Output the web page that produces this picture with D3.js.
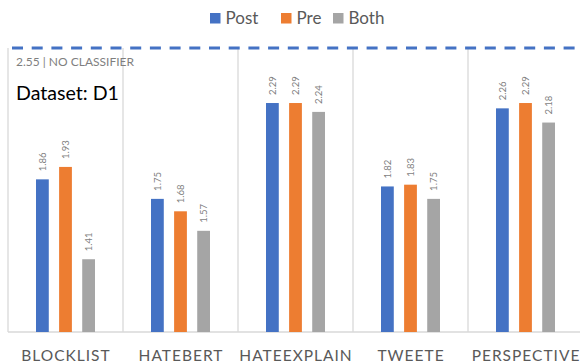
<!DOCTYPE html>
<html>
<head>
<meta charset="utf-8">
<script src="https://cdn.jsdelivr.net/npm/d3@7"></script>
<style>
  html, body { margin: 0; padding: 0; background: #fff; }
  svg { display: block; font-family: Lato, "Open Sans", sans-serif; }
</style>
</head>
<body>
<svg id="chart" width="580" height="363"></svg>
<script>
// ---- data ----
const categories = ["BLOCKLIST", "HATEBERT", "HATEEXPLAIN", "TWEETE", "PERSPECTIVE"];
const seriesNames = ["Post", "Pre", "Both"];
const postValues = [1.86, 1.75, 2.29, 1.82, 2.26];
const preValues  = [1.93, 1.68, 2.29, 1.83, 2.29];
const bothValues = [1.41, 1.57, 2.24, 1.75, 2.18];
const seriesColors = ["#4472C4", "#ED7D31", "#A5A5A5"];
const yDomain = [1, 2.6];
const referenceValue = 2.55;
const referenceLabel = "NO CLASSIFIER";
const datasetLabel = "Dataset: D1";

// ---- build ----
const seriesValues = [postValues, preValues, bothValues];
const svg = d3.select("#chart");

const plot = { left: 8, right: 583, top: 48, bottom: 332 };

const x0 = d3.scaleBand().domain(categories).range([plot.left, plot.right]).paddingInner(0).paddingOuter(0);
const bw = x0.bandwidth();
const x1 = d3.scaleBand().domain(seriesNames).range([bw * 0.2435, bw * 0.7565]).paddingInner(0.447).paddingOuter(0);
const y = d3.scaleLinear().domain(yDomain).range([plot.bottom, plot.top]);
const color = d3.scaleOrdinal().domain(seriesNames).range(seriesColors);

// category dividers
const dividers = categories.map(c => x0(c)).concat([x0(categories[categories.length - 1]) + bw]);
svg.append("g").selectAll("line").data(dividers).join("line")
  .attr("x1", d => d).attr("x2", d => d)
  .attr("y1", y(yDomain[1])).attr("y2", y(yDomain[0]))
  .attr("stroke", "#d9d9d9").attr("stroke-width", 1.3);

// baseline
svg.append("line")
  .attr("x1", plot.left).attr("x2", plot.right)
  .attr("y1", y(yDomain[0])).attr("y2", y(yDomain[0]))
  .attr("stroke", "#d9d9d9").attr("stroke-width", 1.3);

// bars
const rows = [];
categories.forEach((c, i) => {
  seriesNames.forEach((s, j) => rows.push({ cat: c, series: s, value: seriesValues[j][i] }));
});

const g = svg.append("g");
g.selectAll("rect").data(rows).join("rect")
  .attr("x", d => x0(d.cat) + x1(d.series))
  .attr("width", x1.bandwidth())
  .attr("y", d => y(d.value))
  .attr("height", d => y(yDomain[0]) - y(d.value))
  .attr("fill", d => color(d.series));

// value labels (rotated)
g.selectAll("text.val").data(rows).join("text")
  .attr("class", "val")
  .attr("transform", d => `translate(${x0(d.cat) + x1(d.series) + x1.bandwidth() / 2},${y(d.value) - 8}) rotate(-90)`)
  .attr("dy", "0.35em")
  .attr("text-anchor", "start")
  .attr("font-size", "9.5px")
  .attr("fill", "#7f7f7f")
  .text(d => d.value.toFixed(2));

// reference dashed line (top of plot)
svg.append("line")
  .attr("x1", plot.left + 4).attr("x2", plot.right)
  .attr("y1", y(yDomain[1])).attr("y2", y(yDomain[1]))
  .attr("stroke", "#4472C4").attr("stroke-width", 3)
  .attr("stroke-dasharray", "11,8.7");

svg.append("text")
  .attr("x", 16).attr("y", 66)
  .attr("font-size", "12px").attr("fill", "#7f7f7f")
  .text(referenceValue.toFixed(2) + " | " + referenceLabel);

svg.append("text")
  .attr("x", 16).attr("y", 100)
  .attr("font-size", "19.6px").attr("fill", "#000")
  .text(datasetLabel);

// x-axis labels
svg.append("g").selectAll("text").data(categories).join("text")
  .attr("x", d => x0(d) + bw / 2 + 0.5)
  .attr("y", 361)
  .attr("text-anchor", "middle")
  .attr("font-size", "15.5px")
  .attr("letter-spacing", "1px")
  .attr("fill", "#595959")
  .text(d => d);

// legend
const legendX = [210, 281, 333];
const lg = svg.append("g").selectAll("g").data(seriesNames).join("g")
  .attr("transform", (d, i) => `translate(${legendX[i]},13)`);
lg.append("rect").attr("width", 10.5).attr("height", 10.5).attr("fill", d => color(d));
lg.append("text").attr("x", 15.5).attr("y", 10.8)
  .attr("font-size", "17px").attr("fill", "#595959").text(d => d);
</script>
</body>
</html>
